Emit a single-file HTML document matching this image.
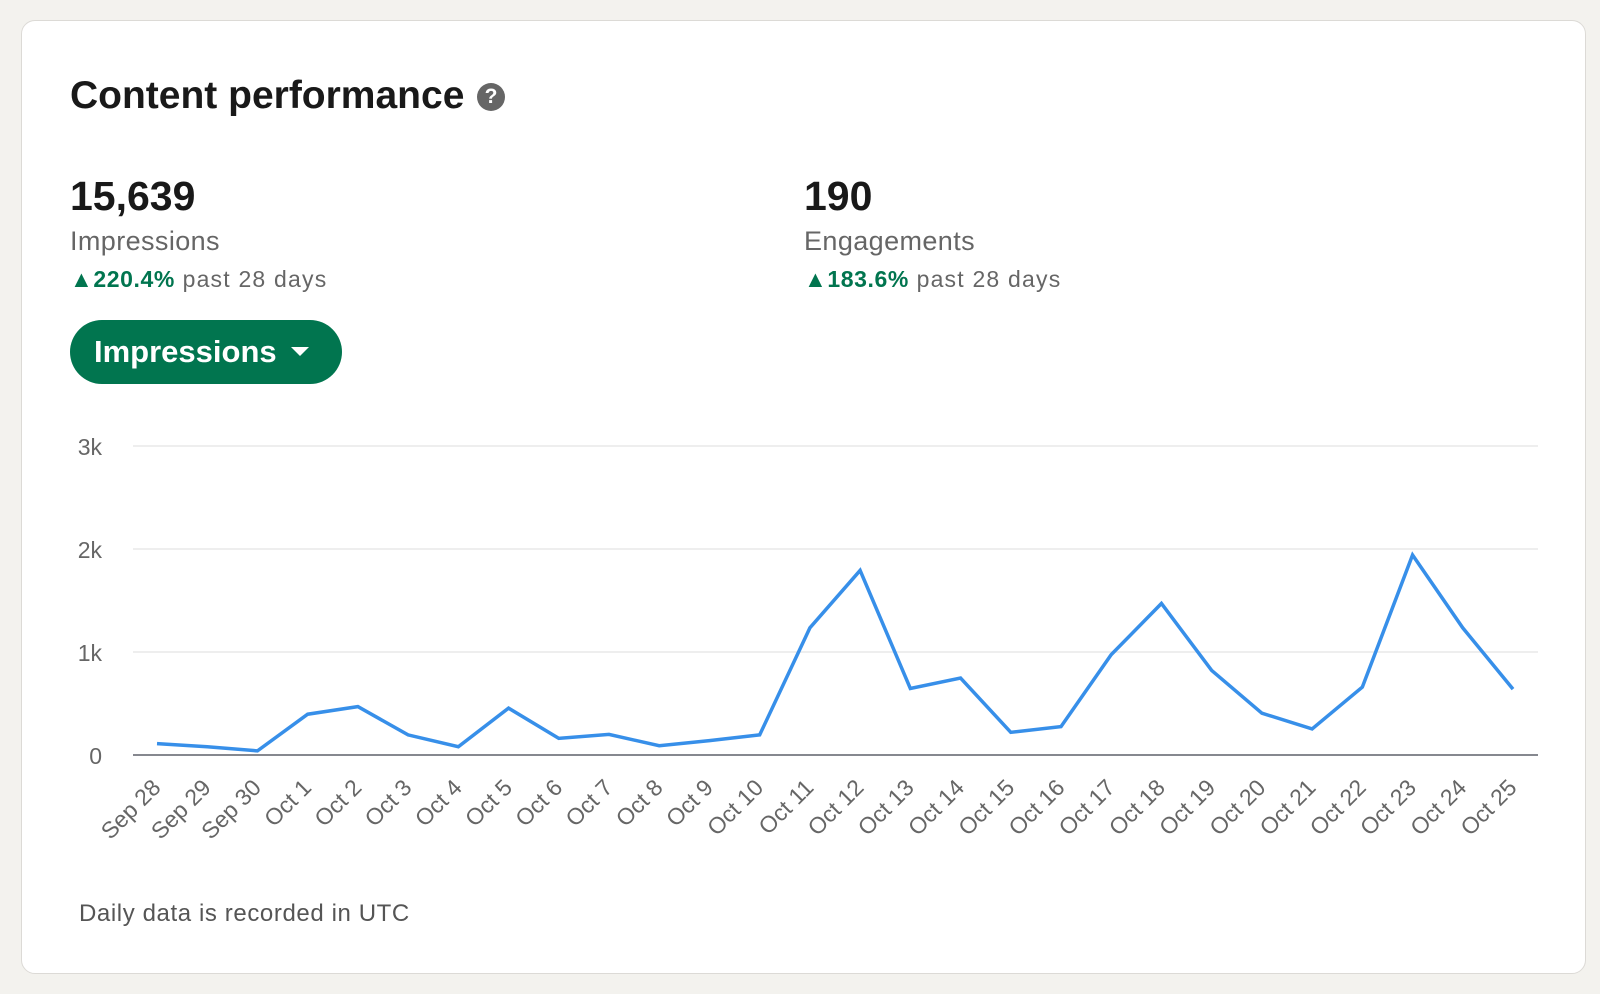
<!DOCTYPE html>
<html><head><meta charset="utf-8"><style>
body{margin:0;width:1600px;height:994px;background:#f3f2ee;font-family:"Liberation Sans",Arial,sans-serif;position:relative;overflow:hidden}
.card{position:absolute;left:21px;top:20px;width:1565px;height:954px;background:#fff;border:1.5px solid #dcdad6;border-radius:14px;box-sizing:border-box}
.abs{position:absolute;white-space:nowrap}
</style></head><body>
<div class="card"></div>
<div class="abs" style="left:70px;top:74px;font-size:39px;font-weight:bold;color:#191919;letter-spacing:0px">Content performance</div>
<div class="abs" style="left:477px;top:83px;width:28px;height:28px;border-radius:50%;background:#666;color:#fff;font-size:21px;font-weight:bold;text-align:center;line-height:28px">?</div>
<div class="abs" style="left:70px;top:173px;font-size:41px;font-weight:bold;color:#191919">15,639</div>
<div class="abs" style="left:70px;top:226px;font-size:27px;color:#666;letter-spacing:0.4px">Impressions</div>
<div class="abs" style="left:70px;top:266px;font-size:23px;color:#666;letter-spacing:1.2px"><span style="color:#01754f;font-weight:bold;letter-spacing:0.6px">▲220.4%</span> past 28 days</div>
<div class="abs" style="left:804px;top:173px;font-size:41px;font-weight:bold;color:#191919">190</div>
<div class="abs" style="left:804px;top:226px;font-size:27px;color:#666;letter-spacing:0.4px">Engagements</div>
<div class="abs" style="left:804px;top:266px;font-size:23px;color:#666;letter-spacing:1.2px"><span style="color:#01754f;font-weight:bold;letter-spacing:0.6px">▲183.6%</span> past 28 days</div>
<div class="abs" style="left:70px;top:320px;width:272px;height:64px;border-radius:32px;background:#01754f;color:#fff;font-size:31px;font-weight:bold;line-height:64px;box-sizing:border-box;padding-left:24px">Impressions <span style="display:inline-block;width:0;height:0;border-left:9px solid transparent;border-right:9px solid transparent;border-top:9px solid #fff;vertical-align:middle;margin-left:6px;margin-top:-4px"></span></div>
<svg id="chart" class="abs" style="left:0;top:0" width="1600" height="994"></svg>
<div class="abs" style="left:79px;top:900px;font-size:24px;color:#555;letter-spacing:0.6px">Daily data is recorded in UTC</div>
<script>
const categories=["Sep 28","Sep 29","Sep 30","Oct 1","Oct 2","Oct 3","Oct 4","Oct 5","Oct 6","Oct 7","Oct 8","Oct 9","Oct 10","Oct 11","Oct 12","Oct 13","Oct 14","Oct 15","Oct 16","Oct 17","Oct 18","Oct 19","Oct 20","Oct 21","Oct 22","Oct 23","Oct 24","Oct 25"];
const impressions=[110,80,40,396,470,195,80,455,162,200,90,140,195,1234,1792,646,747,220,276,974,1471,821,406,253,659,1942,1234,640];
const yTicks=[0,1000,2000,3000];
const yTickLabels=["0","1k","2k","3k"];
const svg=document.getElementById('chart');
const NS='http://www.w3.org/2000/svg';
const X0=157,X1=1513,PL=133,PR=1538,Y0=755,Y3=446,YMAX=3000;
const x=i=>X0+(X1-X0)*i/(categories.length-1);
const y=v=>Y0-(Y0-Y3)*v/YMAX;
function mk(t,a){const e=document.createElementNS(NS,t);for(const k in a)e.setAttribute(k,a[k]);svg.appendChild(e);return e;}
yTicks.forEach((v,i)=>{
  const g=mk('line',{x1:PL,x2:PR,y1:y(v),y2:y(v),stroke:v===0?'#86888f':'#e8e8e8','stroke-width':v===0?2:1.5});
  
  
  const t=mk('text',{x:102,y:y(v)+9,'text-anchor':'end','font-size':23,fill:'#666','font-family':'Liberation Sans, sans-serif'});
  t.textContent=yTickLabels[i];
  
  
});
categories.forEach((c,i)=>{
  const ax=x(i)+5, ay=789;
  const t=mk('text',{x:ax,y:ay,'text-anchor':'end','font-size':23,fill:'#666','font-family':'Liberation Sans, sans-serif',transform:`rotate(-45 ${ax} ${ay})`});
  t.textContent=c;
  
  
});
const p=mk('polyline',{points:impressions.map((v,i)=>x(i)+','+y(v)).join(' '),fill:'none',stroke:'#378fe9','stroke-width':3.5,'stroke-linejoin':'miter'});


</script>
</body></html>
